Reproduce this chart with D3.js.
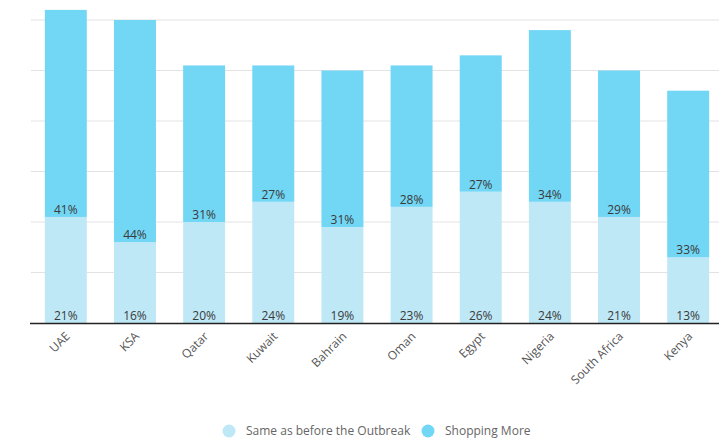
<!DOCTYPE html>
<html>
<head>
<meta charset="utf-8">
<script src="https://cdn.jsdelivr.net/npm/d3@7"></script>
<style>
  html, body { margin: 0; padding: 0; background: #fff; }
  svg { display: block; font-family: "Open Sans", sans-serif; }
</style>
</head>
<body>
<svg id="chart" width="719" height="439"></svg>
<script>
/* ── Data ───────────────────────────────────────────────────────────────────── */
const countries = ["UAE", "KSA", "Qatar", "Kuwait", "Bahrain", "Oman", "Egypt", "Nigeria", "South Africa", "Kenya"];
const sameAsBefore = [21, 16, 20, 24, 19, 23, 26, 24, 21, 13];
const shoppingMore = [41, 44, 31, 27, 31, 28, 27, 34, 29, 33];
const seriesNames = ["Same as before the Outbreak", "Shopping More"];
const gridTicks = [10, 20, 30, 40, 50, 60];

/* ── Palette ────────────────────────────────────────────────────────────────── */
const COLORS = ["#bfe8f7", "#72d6f5"];

/* ── Layout ─────────────────────────────────────────────────────────────────── */
const svg = d3.select("#chart");
const M = { left: 31, right: 723, top: 20, bottom: 323 };

const x = d3.scaleBand()
  .domain(countries)
  .range([M.left, M.right])
  .paddingInner(0.393)
  .paddingOuter(0.2);

const y = d3.scaleLinear()
  .domain([0, 60])
  .range([M.bottom, M.top]);

// Grid
svg.append("g")
  .selectAll("line")
  .data(gridTicks)
  .join("line")
  .attr("x1", M.left).attr("x2", 719)
  .attr("y1", d => y(d)).attr("y2", d => y(d))
  .attr("stroke", "#e3e3e3")
  .attr("stroke-width", 1);

// Stacked bars
const rows = countries.map((c, i) => ({ country: c, same: sameAsBefore[i], more: shoppingMore[i] }));
const stack = d3.stack().keys(["same", "more"])(rows);

svg.append("g")
  .selectAll("g")
  .data(stack)
  .join("g")
  .attr("fill", (d, i) => COLORS[i])
  .selectAll("rect")
  .data(d => d)
  .join("rect")
  .attr("x", d => x(d.data.country))
  .attr("width", x.bandwidth())
  .attr("y", d => y(d[1]))
  .attr("height", d => y(d[0]) - y(d[1]));

// Value labels (at the bottom of each segment)
svg.append("g")
  .selectAll("g")
  .data(stack)
  .join("g")
  .selectAll("text")
  .data(d => d)
  .join("text")
  .attr("x", d => x(d.data.country) + x.bandwidth() / 2)
  .attr("y", d => y(d[0]) - 3)
  .attr("text-anchor", "middle")
  .attr("font-size", 12)
  .attr("fill", "#3a3a3a")
  .text(d => (d[1] - d[0]) + "%");

// Baseline
svg.append("line")
  .attr("x1", 30).attr("x2", 719)
  .attr("y1", M.bottom + 0.5).attr("y2", M.bottom + 0.5)
  .attr("stroke", "#222")
  .attr("stroke-width", 1.5);

// X axis labels
const xAxis = d3.axisBottom(x).tickSize(0).tickPadding(0);
const gx = svg.append("g")
  .attr("transform", `translate(0,${M.bottom})`)
  .call(xAxis);
gx.select(".domain").remove();
gx.selectAll("text")
  .attr("font-family", "Open Sans, sans-serif")
  .attr("font-size", 12)
  .attr("fill", "#555")
  .attr("text-anchor", "end")
  .attr("dy", null)
  .attr("transform", "translate(5,14) rotate(-45)");

/* ── Legend ─────────────────────────────────────────────────────────────────── */
const legend = svg.append("g").attr("transform", "translate(0,431)");
const legendX = [229, 428];
seriesNames.forEach((name, i) => {
  legend.append("circle")
    .attr("cx", legendX[i]).attr("cy", 0).attr("r", 6.5)
    .attr("fill", COLORS[i]);
  legend.append("text")
    .attr("x", legendX[i] + 17).attr("y", 4)
    .attr("font-size", 12)
    .attr("fill", "#666")
    .text(name);
});
</script>
</body>
</html>
